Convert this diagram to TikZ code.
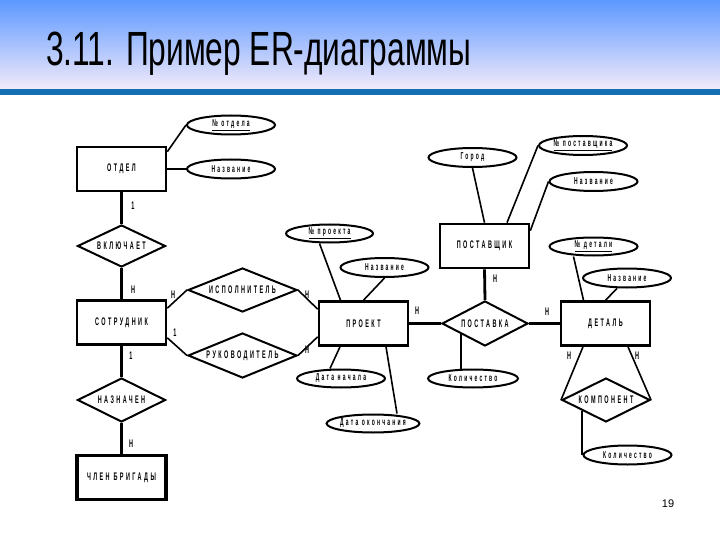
\documentclass[tikz,border=0pt]{standalone}
\usepackage{fontspec}
\setmainfont{Liberation Sans}
\newfontfamily\titlefont[FakeStretch=0.66]{Liberation Sans}
\newfontfamily\erfont[FakeStretch=0.5,LetterSpace=22]{Liberation Sans}
\usetikzlibrary{shapes.geometric}
\definecolor{headtop}{RGB}{92,152,255}
\definecolor{headbottom}{RGB}{242,234,250}
\definecolor{headrule}{RGB}{20,110,180}
\tikzset{
  entity/.style={draw=black,line width=2.6pt,minimum width=89pt,
    minimum height=44pt,inner sep=0pt,align=center,
    font=\erfont\bfseries\fontsize{11}{12}\selectfont},
  relation/.style={diamond,draw=black,line width=2pt,aspect=2.5,
    minimum width=88pt,minimum height=44pt,inner sep=0pt,
    font=\erfont\bfseries\fontsize{11}{12}\selectfont},
  attribute/.style={ellipse,draw=black,line width=2pt,minimum width=88pt,
    minimum height=19pt,inner sep=0pt,
    font=\erfont\bfseries\fontsize{10}{12}\selectfont},
  card/.style={inner sep=0pt,font=\erfont\bfseries\fontsize{11}{12}\selectfont},
  thicklink/.style={draw=black,line width=2.8pt},
  thinlink/.style={draw=black,line width=1.6pt}
}

\begin{document}
\begin{tikzpicture}[x=1pt,y=-1pt]
  \useasboundingbox (0,0) rectangle (720,540);
  % header
  \shade[top color=headtop,bottom color=headbottom] (0,0) rectangle (720,89);
  \fill[headrule] (0,89) rectangle (720,95);
  \node[anchor=base west,inner sep=0pt,font=\titlefont\fontsize{48}{50}\selectfont]
    (title) at (46,66) {3.11. Пример ER-диаграммы};

  % entities
  \node[entity] (otdel) at (121.5,169) {ОТДЕЛ};
  \node[entity] (sotr) at (121.5,322.5) {СОТРУДНИК};
  \node[entity,line width=3.6pt] (chlen) at (121.5,477.5) {ЧЛЕН БРИГАДЫ};
  \node[entity] (proekt) at (363.5,323.5) {ПРОЕКТ};
  \node[entity] (postavshik) at (484.5,246) {ПОСТАВЩИК};
  \node[entity] (detal) at (605.5,323.5) {ДЕТАЛЬ};

  % relationships
  \node[relation,minimum height=42pt] (vkl) at (121.5,246) {ВКЛЮЧАЕТ};
  \node[relation] (nazn) at (121.5,400) {НАЗНАЧЕН};
  \node[relation,minimum width=109pt] (ispol) at (242.5,290) {ИСПОЛНИТЕЛЬ};
  \node[relation,minimum width=109pt,minimum height=45pt] (ruk) at (242.5,355.5) {РУКОВОДИТЕЛЬ};
  \node[relation,minimum width=86pt,minimum height=45pt] (postavka) at (485,323.5) {ПОСТАВКА};
  \node[relation] (komp) at (606,400) {КОМПОНЕНТ};

  % attributes
  \node[attribute] (otdno) at (231,125) {\underline{№ отдела}};
  \node[attribute] (otdname) at (231,169) {Название};
  \node[attribute,minimum width=87pt,minimum height=18pt] (prno) at (329.5,233.5) {\underline{№ проекта}};
  \node[attribute] (prname) at (384.5,267.5) {Название};
  \node[attribute,minimum height=18pt] (prstart) at (341,378.5) {Дата начала};
  \node[attribute,minimum width=90pt,minimum height=18pt] (prend) at (373,423.5) {Дата окончания};
  \node[attribute] (gorod) at (472.5,157.5) {Город};
  \node[attribute] (postno) at (583,145.5) {\underline{№ поставщика}};
  \node[attribute] (postname) at (593.5,181.5) {Название};
  \node[attribute,minimum height=18pt] (detno) at (593.5,246.5) {\underline{№ детали}};
  \node[attribute] (detname) at (627,278) {Название};
  \node[attribute,minimum width=90pt,minimum height=18pt] (kolpost) at (473,378.5) {Количество};
  \node[attribute] (kolkomp) at (627.5,455) {Количество};

  % connectors
  \path ([yshift=-6pt]otdel.north east) edge[thinlink] (otdno.west);
  \path (otdel.east) edge[thicklink] (otdname.west);
  \path (otdel.south) edge[thicklink] (vkl.north);
  \path (vkl.south) edge[thicklink] (sotr.north);
  \path (sotr.south) edge[thicklink] (nazn.north);
  \path (nazn.south) edge[thicklink] (chlen.north);
  \path ([yshift=-9pt]sotr.north east) edge[thinlink] (ispol.west);
  \path ([yshift=8pt]sotr.south east) edge[thinlink] (ruk.west);
  \path (ispol.east) edge[thinlink] ([yshift=-9pt]proekt.north west);
  \path (ruk.east) edge[thinlink] ([yshift=10pt]proekt.south west);
  \path ([xshift=-10pt]prno.south) edge[thinlink] ([xshift=-23pt]proekt.north);
  \path (prname.south) edge[thinlink] (proekt.north);
  \path ([xshift=-23.5pt]proekt.south) edge[thinlink] ([xshift=-11pt]prstart.north);
  \path ([xshift=22.5pt]proekt.south) edge[thinlink] ([xshift=24pt]prend.north);
  \path (proekt.east) edge[thicklink] (postavka.west);
  \path (postavshik.south) edge[thicklink] (postavka.north);
  \path (postavka.east) edge[thicklink] (detal.west);
  \path (postavka.204) edge[thicklink] (postavka.204 |- kolpost.north);
  \path (gorod.south) edge[thinlink] (postavshik.north);
  \path (postno.west) edge[thinlink] ([xshift=22.5pt]postavshik.north);
  \path (postname.west) edge[thinlink] ([yshift=-8pt]postavshik.north east);
  \path ([xshift=-20pt]detno.south) edge[thinlink] ([xshift=-22pt]detal.north);
  \path ([xshift=-10pt]detname.south) edge[thinlink] (detal.north);
  \path ([xshift=-22.5pt]detal.south) edge[thinlink] (komp.west);
  \path ([xshift=22.5pt]detal.south) edge[thinlink] (komp.east);
  \path (komp.204) edge[thicklink] (komp.204 |- kolkomp.west);

  % cardinalities
  \node[card] (c1) at (133,206) {1};
  \node[card] (c2) at (133,290) {Н};
  \node[card] (c3) at (131,356) {1};
  \node[card] (c4) at (131,444) {Н};
  \node[card] (c5) at (173,295) {Н};
  \node[card] (c6) at (175,333) {1};
  \node[card] (c7) at (307,295) {Н};
  \node[card] (c8) at (307,350) {Н};
  \node[card] (c9) at (417,311) {Н};
  \node[card] (c10) at (495,279) {Н};
  \node[card] (c11) at (547,312) {Н};
  \node[card] (c12) at (569,356) {Н};
  \node[card] (c13) at (637,356) {Н};

  % page number
  \node[inner sep=0pt,font=\fontsize{11}{12}\selectfont] (page) at (668,504) {19};
\end{tikzpicture}
\end{document}
